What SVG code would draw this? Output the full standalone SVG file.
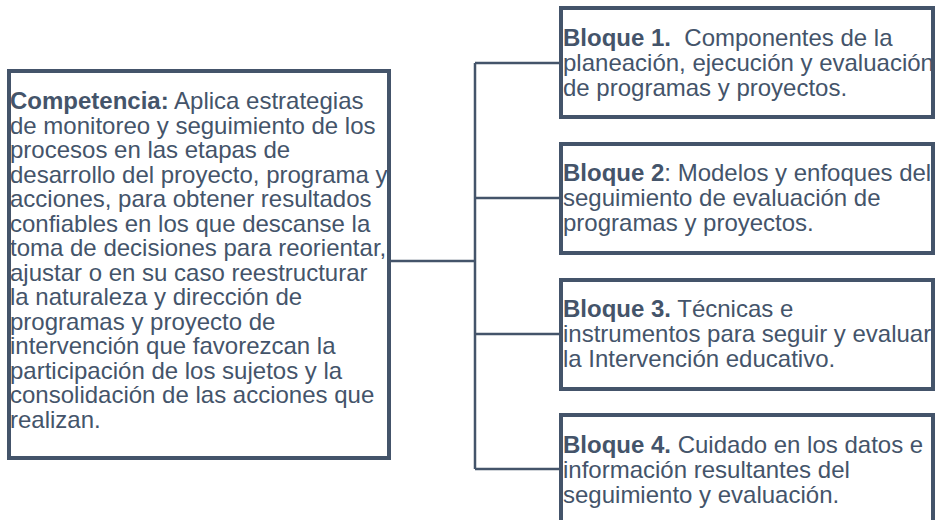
<svg xmlns="http://www.w3.org/2000/svg" width="936" height="520" viewBox="0 0 936 520">
<style>
.box{fill:#ffffff;stroke:#44546A;stroke-width:4}
.t{font-family:"Liberation Sans",Arial,sans-serif;font-size:24px;fill:#44546A}
.b{font-weight:bold}
.conn{fill:none;stroke:#44546A;stroke-width:2.5}
</style>
<rect width="936" height="520" fill="#ffffff"/>
<g id="connectors">
<path class="conn" d="M390 261 H475 M475 63 V469 M475 63 H561 M475 198 H561 M475 334 H561 M475 469 H561"/>
</g>
<g id="competencia">
<rect class="box" x="9" y="71" width="380" height="387"/>
<text class="t" x="10" y="109">
<tspan class="b">Competencia:</tspan> Aplica estrategias
<tspan x="10" dy="24.5">de monitoreo y seguimiento de los</tspan>
<tspan x="10" dy="24.5">procesos en las etapas de</tspan>
<tspan x="10" dy="24.5">desarrollo del proyecto, programa y</tspan>
<tspan x="10" dy="24.5">acciones, para obtener resultados</tspan>
<tspan x="10" dy="24.5">confiables en los que descanse la</tspan>
<tspan x="10" dy="24.5">toma de decisiones para reorientar,</tspan>
<tspan x="10" dy="24.5">ajustar o en su caso reestructurar</tspan>
<tspan x="10" dy="24.5">la naturaleza y dirección de</tspan>
<tspan x="10" dy="24.5">programas y proyecto de</tspan>
<tspan x="10" dy="24.5">intervención que favorezcan la</tspan>
<tspan x="10" dy="24.5">participación de los sujetos y la</tspan>
<tspan x="10" dy="24.5">consolidación de las acciones que</tspan>
<tspan x="10" dy="24.5">realizan.</tspan>
</text>
</g>
<g id="bloque1">
<rect class="box" x="561" y="8" width="372" height="109"/>
<text class="t" x="563" y="46"><tspan class="b">Bloque 1.</tspan>&#160; Componentes de la<tspan x="563" dy="25">planeación, ejecución y evaluación</tspan><tspan x="563" dy="25">de programas y proyectos.</tspan></text>
</g>
<g id="bloque2">
<rect class="box" x="561" y="144" width="372" height="109"/>
<text class="t" x="563" y="181"><tspan class="b">Bloque 2</tspan>: Modelos y enfoques del<tspan x="563" dy="25">seguimiento de evaluación de</tspan><tspan x="563" dy="25">programas y proyectos.</tspan></text>
</g>
<g id="bloque3">
<rect class="box" x="561" y="280" width="372" height="109"/>
<text class="t" x="563" y="317"><tspan class="b">Bloque 3.</tspan> Técnicas e<tspan x="563" dy="25">instrumentos para seguir y evaluar</tspan><tspan x="563" dy="25">la Intervención educativo.</tspan></text>
</g>
<g id="bloque4">
<rect class="box" x="561" y="415" width="372" height="115"/>
<text class="t" x="563" y="453"><tspan class="b">Bloque 4.</tspan> Cuidado en los datos e<tspan x="563" dy="25">información resultantes del</tspan><tspan x="563" dy="25">seguimiento y evaluación.</tspan></text>
</g>
</svg>
